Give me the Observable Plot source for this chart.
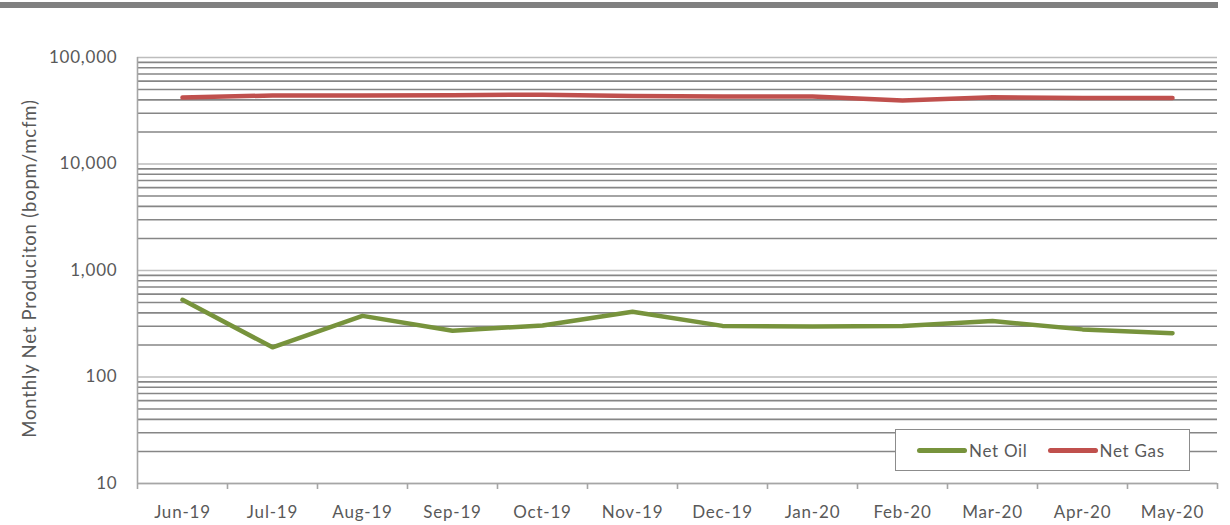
<!DOCTYPE html>
<html>
<head>
<meta charset="utf-8">
<script src="https://cdn.jsdelivr.net/npm/d3@7"></script>
<script src="https://cdn.jsdelivr.net/npm/@observablehq/plot@0.6"></script>
<style>
  html, body { margin: 0; padding: 0; background: #fff; }
  #wrap { position: relative; width: 1230px; height: 525px; overflow: hidden; font-family: Lato, "Open Sans", sans-serif; }
  #topbar { position: absolute; left: 0; top: 2px; width: 1218px; height: 6px; background: #808080; }
  #legend { position: absolute; left: 895px; top: 429px; width: 293px; height: 40px; background: #fff;
            border: 1.5px solid #8c8c8c; display: flex; align-items: center; color: #595959; font-size: 17px; letter-spacing: 0.7px; }
  .item { display: flex; align-items: center; margin-left: 21px; }
  .item + .item { margin-left: 20px; }
  .sw { width: 50px; height: 5px; border-radius: 3px; margin-right: 2px; }
</style>
</head>
<body>
<div id="wrap">
  <div id="chart"></div>
  <div id="topbar"></div>
  <div id="legend"></div>
</div>
<script>
const months = ["Jun-19","Jul-19","Aug-19","Sep-19","Oct-19","Nov-19","Dec-19","Jan-20","Feb-20","Mar-20","Apr-20","May-20"];
const netOil = [530, 190, 375, 272, 305, 410, 302, 298, 302, 335, 280, 258];
const netGas = [42000, 44000, 44000, 44300, 44800, 43500, 43000, 43000, 39500, 42300, 41700, 41700];
const seriesNames = ["Net Oil", "Net Gas"];
const seriesColors = ["#77933C", "#C0504D"];
const majorTicks = [10, 100, 1000, 10000, 100000];
const yTitle = "Monthly Net Produciton (bopm/mcfm)";

const minorTicks = d3.scaleLog().domain([10, 100000]).ticks().filter(v => !majorTicks.includes(v));

const rows = [];
months.forEach((m, i) => {
  rows.push({month: m, value: netOil[i], series: seriesNames[0]});
  rows.push({month: m, value: netGas[i], series: seriesNames[1]});
});

const W = 1230, H = 525;
const mL = 137, mR = 13, mT = 57, mB = 42;
const step = (W - mL - mR) / months.length;
const textColor = "#595959";

const chart = Plot.plot({
  width: W,
  height: H,
  marginLeft: mL,
  marginRight: mR,
  marginTop: mT,
  marginBottom: mB,
  style: {fontFamily: "Lato, 'Open Sans', sans-serif", fontSize: "17px", color: textColor, background: "#fff", letterSpacing: "0.8px"},
  x: {type: "point", domain: months, padding: 0.5},
  y: {type: "log", domain: [10, 100000]},
  color: {domain: seriesNames, range: seriesColors},
  marks: [
    Plot.gridY({ticks: minorTicks, stroke: "#868686", strokeOpacity: 1, strokeWidth: 1.6}),
    Plot.gridY({ticks: majorTicks, stroke: "#bdbdbd", strokeOpacity: 1, strokeWidth: 1.6}),
    Plot.ruleX([months[0]], {dx: -step / 2, stroke: "#a6a6a6", strokeWidth: 1.6}),
    Plot.ruleY([10], {stroke: "#a6a6a6", strokeWidth: 1.6}),
    Plot.axisX({ticks: months, tickSize: 6, text: null, dx: -step / 2, stroke: "#a6a6a6", strokeWidth: 1.6, label: null}),
    Plot.axisX({ticks: [months[months.length - 1]], tickSize: 6, text: null, dx: step / 2, stroke: "#a6a6a6", strokeWidth: 1.6, label: null}),
    Plot.axisX({ticks: months, tickSize: 0, tickPadding: 22, fill: textColor, fontSize: 17, label: null}),
    Plot.axisY({ticks: majorTicks, tickSize: 0, tickPadding: 20, tickFormat: d3.format(","), fill: textColor, fontSize: 17, label: null}),
    Plot.text([yTitle], {frameAnchor: "left", textAnchor: "middle", rotate: -90, dx: -107, dy: -2, fill: textColor, fontSize: 18.5}),
    Plot.line(rows, {x: "month", y: "value", z: "series", stroke: "series", strokeWidth: 4.5, strokeLinejoin: "round", strokeLinecap: "round"})
  ]
});
document.getElementById("chart").appendChild(chart);

const legend = document.getElementById("legend");
seriesNames.forEach((name, i) => {
  const item = document.createElement("div");
  item.className = "item";
  const sw = document.createElement("div");
  sw.className = "sw";
  sw.style.background = seriesColors[i];
  const label = document.createElement("span");
  label.textContent = name;
  item.appendChild(sw);
  item.appendChild(label);
  legend.appendChild(item);
});
</script>
</body>
</html>
